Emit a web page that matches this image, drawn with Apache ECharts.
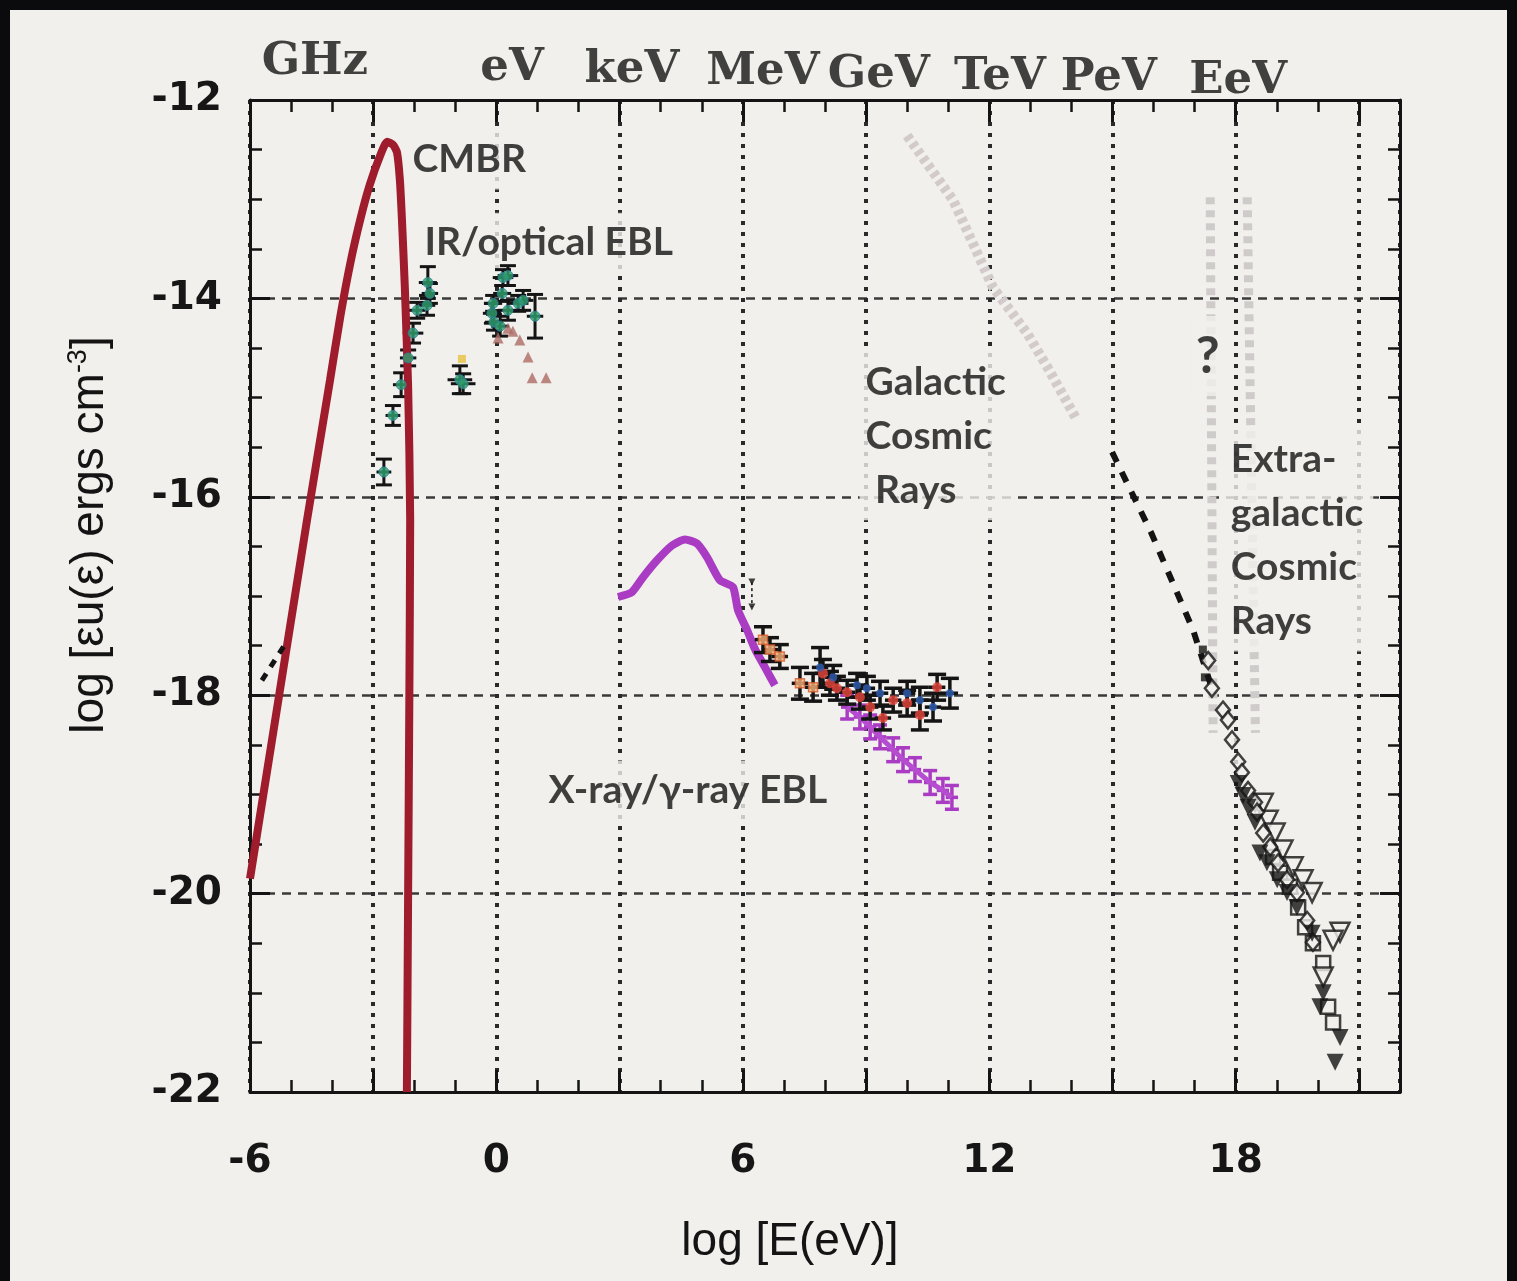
<!DOCTYPE html>
<html><head><meta charset="utf-8">
<script src="https://cdn.jsdelivr.net/npm/echarts@6/dist/echarts.min.js"></script>
<style>
html,body{margin:0;padding:0;background:#0b0b0d;width:1517px;height:1281px;overflow:hidden;}
#main{position:absolute;left:10px;top:10px;width:1497px;height:1271px;background:#f1f0ec;}
</style></head><body><div id="main"></div>
<script>
// ---------- data (log10 E [eV], log10 eu(e) [erg cm^-3]) ----------
const xTickLabels = [-6, 0, 6, 12, 18];
const yTickLabels = [-12, -14, -16, -18, -20, -22];

const unitNames = ['GHz', 'eV', 'keV', 'MeV', 'GeV', 'TeV', 'PeV', 'EeV'];
const unitLogE = [-4.42, 0.38, 3.30, 6.49, 9.31, 12.26, 14.91, 18.06];
const unitLogU = [-11.62, -11.68, -11.70, -11.72, -11.75, -11.77, -11.78, -11.81];

const cmbrLogE = [-6.0, -4.61, -4.05, -3.80, -3.55, -3.30, -3.08, -2.83, -2.66, -2.52, -2.42, -2.35, -2.30, -2.23, -2.15, -2.10, -2.12, -2.15, -2.18];
const cmbrLogU = [-19.85, -16.23, -14.82, -14.18, -13.63, -13.18, -12.85, -12.56, -12.42, -12.45, -12.53, -12.81, -13.21, -13.89, -14.89, -16.23, -18.0, -20.0, -22.0];

const radioLogE = [-5.71, -5.15];
const radioLogU = [-17.85, -17.49];

const irLogE = [-2.74, -2.52, -2.32, -2.15, -2.03, -1.93, -1.69, -1.62, -1.67, -0.89, -0.81, 0.16, 0.28, 0.14, -0.08, -0.11, -0.06, 0.09, 0.28, 0.53, 0.65, 0.94];
const irLogU = [-15.75, -15.18, -14.87, -14.60, -14.35, -14.12, -14.07, -13.95, -13.84, -14.82, -14.86, -13.79, -13.77, -13.95, -14.05, -14.15, -14.24, -14.28, -14.12, -14.05, -14.02, -14.18];
const irErrU = [0.13, 0.10, 0.12, 0.08, 0.10, 0.08, 0.10, 0.10, 0.16, 0.14, 0.10, 0.08, 0.10, 0.08, 0.08, 0.10, 0.08, 0.10, 0.10, 0.08, 0.10, 0.22];
const irErrE = [0.18, 0.18, 0.2, 0.2, 0.25, 0.2, 0.2, 0.2, 0.22, 0.3, 0.3, 0.25, 0.25, 0.22, 0.22, 0.22, 0.22, 0.22, 0.25, 0.25, 0.25, 0.2];
const yellowLogE = [-0.84];
const yellowLogU = [-14.61];

const triLogE = [0.04, 0.28, 0.40, 0.57, 0.77, 0.87, 1.21];
const triLogU = [-14.40, -14.30, -14.33, -14.42, -14.59, -14.80, -14.80];

const xrayLogE = [2.96, 3.30, 3.57, 3.91, 4.28, 4.59, 4.88, 5.13, 5.44, 5.76, 5.88, 6.10, 6.30, 6.54, 6.78];
const xrayLogU = [-17.01, -16.96, -16.81, -16.64, -16.49, -16.43, -16.47, -16.61, -16.84, -16.91, -17.14, -17.34, -17.54, -17.72, -17.90];

const fermiLogE = [8.54, 8.85, 9.10, 9.34, 9.66, 9.90, 10.19, 10.56, 10.87, 11.09];
const fermiLogU = [-18.12, -18.22, -18.32, -18.42, -18.55, -18.65, -18.75, -18.88, -18.96, -19.03];

const comptelLogE = [6.49, 6.66, 6.90, 7.39, 7.71];
const comptelLogU = [-17.44, -17.54, -17.61, -17.88, -17.92];
const comptelErr = [0.13, 0.12, 0.12, 0.16, 0.14];

const redLogE = [7.95, 8.12, 8.29, 8.54, 8.85, 9.10, 9.41, 9.66, 10.00, 10.31, 10.73];
const redLogU = [-17.78, -17.88, -17.93, -17.97, -18.02, -18.12, -18.23, -18.05, -18.08, -18.20, -17.92];
const redErr = [0.14, 0.12, 0.12, 0.12, 0.12, 0.12, 0.12, 0.12, 0.13, 0.15, 0.13];

const blueLogE = [7.88, 8.20, 8.78, 9.02, 9.34, 10.00, 10.31, 10.63, 11.04];
const blueLogU = [-17.72, -17.82, -17.90, -17.93, -17.98, -17.98, -18.05, -18.12, -17.98];
const blueErr = [0.2, 0.12, 0.12, 0.12, 0.12, 0.12, 0.13, 0.14, 0.15];

const limitLogE = [6.22, 6.22];
const limitLogU = [-16.86, -17.11];

const gcrLogE = [10.0, 11.12, 12.09, 12.92, 13.41, 14.14];
const gcrLogU = [-12.36, -13.01, -13.89, -14.35, -14.69, -15.23];

const egBandLogE = [[17.38, 17.45], [18.28, 18.48]];
const egBandLogU = [[-12.98, -18.38], [-12.98, -18.38]];

const kneeLogE = [14.99, 15.94, 16.96, 17.42];
const kneeLogU = [-15.55, -16.36, -17.34, -17.93];

const diaLogE = [17.33, 17.42, 17.69, 17.81, 17.91, 18.06, 18.15, 18.30, 18.47, 18.52, 18.67, 18.84, 19.03, 19.25, 19.49, 19.74, 19.88];
const diaLogU = [-17.65, -17.93, -18.15, -18.25, -18.45, -18.67, -18.78, -18.96, -19.08, -19.18, -19.39, -19.53, -19.69, -19.86, -19.99, -20.27, -20.49];

const fTriLogE = [18.06, 18.18, 18.30, 18.47, 18.59, 18.76, 19.01, 19.25, 19.49, 19.86, 20.13, 20.05, 20.54, 20.42];
const fTriLogU = [-18.89, -19.01, -19.13, -19.28, -19.59, -19.69, -19.86, -19.99, -20.14, -20.40, -21.00, -21.14, -21.45, -21.70];

const oTriLogE = [18.67, 18.79, 18.96, 19.15, 19.40, 19.64, 19.86, 20.54, 20.37, 20.13];
const oTriLogU = [-19.09, -19.26, -19.39, -19.56, -19.73, -19.86, -19.99, -20.39, -20.47, -20.84];

const sqLogE = [18.91, 19.08, 19.32, 19.52, 19.69, 19.88, 20.13, 20.25, 20.37];
const sqLogU = [-19.63, -19.79, -19.93, -20.14, -20.34, -20.50, -20.70, -21.14, -21.30];

const smallSqLogE = [17.20, 17.25];
const smallSqLogU = [-17.54, -17.82];

const annoText = ['CMBR', 'IR/optical EBL', 'X-ray/γ-ray EBL', 'Galactic\nCosmic\n Rays', 'Extra-\ngalactic\nCosmic\nRays', '?'];
const annoLogE = [-2.20, -1.91, 1.11, 8.83, 17.72, 16.92];
const annoLogU = [-12.60, -13.44, -18.96, -15.39, -16.44, -14.58];

// ---------- helpers ----------
const zip = (...arrs) => arrs[0].map((_, i) => arrs.map(a => a[i]));
const PAGE = '#f1f0ec';
const INK = '#141414';

function errRender(color, lw, cap) {
  return function (params, api) {
    const x = api.value(0), y = api.value(1), ey = api.value(2), ex = api.value(3);
    const t = api.coord([x, y + ey]), b = api.coord([x, y - ey]);
    const l = api.coord([x - ex, y]), r = api.coord([x + ex, y]);
    const st = { stroke: color, lineWidth: lw };
    return {
      type: 'group', children: [
        { type: 'line', shape: { x1: t[0], y1: t[1], x2: b[0], y2: b[1] }, style: st },
        { type: 'line', shape: { x1: t[0] - cap, y1: t[1], x2: t[0] + cap, y2: t[1] }, style: st },
        { type: 'line', shape: { x1: b[0] - cap, y1: b[1], x2: b[0] + cap, y2: b[1] }, style: st },
        { type: 'line', shape: { x1: l[0], y1: l[1], x2: r[0], y2: r[1] }, style: st }
      ]
    };
  };
}
function errSeries(data, color, lw, cap, z) {
  return { type: 'custom', renderItem: errRender(color, lw, cap), data: data, encode: { x: 0, y: 1 }, z: z, silent: true };
}
const fill = (v, e) => v.map(() => e);

const baseX = {
  type: 'value', min: -6, max: 22, interval: 3,
  axisLine: { show: true, onZero: false, lineStyle: { color: INK, width: 3 } },
  axisTick: { show: true, inside: true, length: 22, lineStyle: { color: INK, width: 3 } },
  minorTick: { show: true, splitNumber: 3, length: 12, lineStyle: { color: INK, width: 2.5 } }
};
const baseY = {
  type: 'value', min: -22, max: -12, interval: 2,
  axisLine: { show: true, onZero: false, lineStyle: { color: INK, width: 3 } },
  axisTick: { show: true, inside: true, length: 20, lineStyle: { color: INK, width: 3 } },
  minorTick: { show: true, splitNumber: 4, length: 12, lineStyle: { color: INK, width: 2.5 } }
};

const chart = echarts.init(document.getElementById('main'));
chart.setOption({
  animation: false,
  backgroundColor: PAGE,
  grid: { left: 240, top: 90, right: 107, bottom: 189 },
  xAxis: [
    Object.assign({}, baseX, {
      position: 'bottom',
      axisLabel: {
        margin: 50, fontFamily: 'DejaVu Sans', fontWeight: 'bold', fontSize: 39, color: '#161616',
        formatter: v => (xTickLabels.indexOf(v) >= 0 ? String(v) : '')
      },
      splitLine: { show: true, lineStyle: { type: [4, 7], width: 4, color: '#2a2a2a' } }
    }),
    Object.assign({}, baseX, { position: 'top', axisLabel: { show: false }, splitLine: { show: false } })
  ],
  yAxis: [
    Object.assign({}, baseY, {
      position: 'left',
      axisLabel: {
        margin: 28, fontFamily: 'DejaVu Sans', fontWeight: 'bold', fontSize: 39, color: '#161616',
        formatter: v => (yTickLabels.indexOf(v) >= 0 ? String(v) : '')
      },
      splitLine: { show: true, lineStyle: { type: [9, 7], width: 2.5, color: '#3a3a3a' } }
    }),
    Object.assign({}, baseY, { position: 'right', axisLabel: { show: false }, splitLine: { show: false } })
  ],
  graphic: [
    {
      type: 'text', x: 80, y: 525, rotation: Math.PI / 2,
      style: {
        text: '{a|log [εu(ε) ergs cm}{s|-3}{a|]}', align: 'center', verticalAlign: 'middle',
        rich: {
          a: { fontFamily: 'Liberation Sans', fontSize: 46, lineHeight: 50, fill: '#141414' },
          s: { fontFamily: 'Liberation Sans', fontSize: 27, lineHeight: 27, verticalAlign: 'top', fill: '#141414' }
        }
      }
    },
    {
      type: 'text', x: 780, y: 1232,
      style: { text: 'log [E(eV)]', align: 'center', verticalAlign: 'middle', fontFamily: 'Liberation Sans', fontSize: 46, fill: '#141414' }
    }
  ],
  series: [
    // unit labels above the frame
    {
      type: 'scatter', clip: false, symbolSize: 1, itemStyle: { color: 'rgba(0,0,0,0)' }, z: 3, silent: true,
      data: unitNames.map((n, i) => ({ name: n, value: [unitLogE[i], unitLogU[i]] })),
      label: { show: true, position: 'inside', formatter: '{b}', fontFamily: 'DejaVu Serif', fontWeight: 'bold', fontSize: 45, color: '#141414' }
    },
    // faint cosmic-ray bands
    {
      type: 'line', data: zip(gcrLogE, gcrLogU), symbol: 'none', z: 2, silent: true,
      lineStyle: { color: '#d3cbcb', width: 10, type: [5, 4] }
    },
    ...egBandLogE.map((xs, k) => ({
      type: 'line', data: zip(xs, egBandLogU[k]), symbol: 'none', z: 2, silent: true,
      lineStyle: { color: '#d0cbcb', width: 9, type: [7, 6] }
    })),
    // annotations with page-coloured boxes
    {
      type: 'scatter', symbolSize: 1, itemStyle: { color: 'rgba(0,0,0,0)' }, z: 3, silent: true,
      data: annoText.map((t, i) => ({
        name: t, value: [annoLogE[i], annoLogU[i]],
        label: t === '?' ? { fontSize: 52, lineHeight: 52, padding: [14, 4, 14, 4] } : {}
      })),
      label: {
        show: true, position: 'right', distance: 0, formatter: '{b}', align: 'left',
        fontFamily: 'Lato', fontWeight: 'bold', fontSize: 39, lineHeight: 54, color: '#111111',
        backgroundColor: PAGE, padding: [3, 10, 3, 6]
      }
    },
    // CMBR
    {
      type: 'line', data: zip(cmbrLogE, cmbrLogU), symbol: 'none', smooth: 0.2, z: 6,
      lineStyle: { color: '#9e1c2c', width: 8 }
    },
    {
      type: 'line', data: zip(radioLogE, radioLogU), symbol: 'none', z: 6,
      lineStyle: { color: INK, width: 5, type: [8, 8] }
    },
    // IR / optical EBL
    errSeries(zip(irLogE, irLogU, irErrU, irErrE), INK, 3, 8, 5),
    {
      type: 'scatter', data: zip(irLogE, irLogU), symbol: 'circle', symbolSize: 10, z: 6,
      itemStyle: { color: '#2fa06e', borderColor: '#2a7fa0', borderWidth: 1 }
    },
    { type: 'scatter', data: zip(yellowLogE, yellowLogU), symbol: 'rect', symbolSize: 8, z: 6, itemStyle: { color: '#e8c040' } },
    { type: 'scatter', data: zip(triLogE, triLogU), symbol: 'triangle', symbolSize: 11, z: 6, itemStyle: { color: '#ad6c64' } },
    // X-ray EBL
    {
      type: 'line', data: zip(xrayLogE, xrayLogU), symbol: 'none', smooth: 0.2, z: 5,
      lineStyle: { color: '#aa3cc4', width: 8 }
    },
    {
      type: 'line', data: zip(fermiLogE, fermiLogU), symbol: 'none', z: 5,
      lineStyle: { color: '#b64cd0', width: 5 }
    },
    errSeries(zip(fermiLogE, fermiLogU, fill(fermiLogE, 0.12), fill(fermiLogE, 0.15)), '#aa3cc4', 3.5, 7, 5),
    // gamma-ray measurements
    errSeries(zip(comptelLogE, comptelLogU, comptelErr, fill(comptelLogE, 0.2)), INK, 3.5, 9, 6),
    errSeries(zip(redLogE, redLogU, redErr, fill(redLogE, 0.2)), INK, 3.5, 9, 6),
    errSeries(zip(blueLogE, blueLogU, blueErr, fill(blueLogE, 0.2)), INK, 3.5, 9, 6),
    { type: 'scatter', data: zip(comptelLogE, comptelLogU), symbol: 'rect', symbolSize: 9, z: 7, itemStyle: { color: '#f6b27a', borderColor: '#d85a2a', borderWidth: 1.5 } },
    { type: 'scatter', data: zip(redLogE, redLogU), symbol: 'circle', symbolSize: 10, z: 7, itemStyle: { color: '#e8463c' } },
    { type: 'scatter', data: zip(blueLogE, blueLogU), symbol: 'circle', symbolSize: 8, z: 7, itemStyle: { color: '#2e5fb5' } },
    {
      type: 'line', data: zip(limitLogE, limitLogU), symbol: 'none', z: 6,
      lineStyle: { color: INK, width: 1.5, type: [3, 3] }
    },
    {
      type: 'scatter', data: zip(limitLogE, limitLogU), symbol: 'triangle', symbolRotate: 180, symbolSize: 7, z: 6,
      itemStyle: { color: INK }
    },
    // cosmic-ray knee line and UHECR data
    {
      type: 'line', data: zip(kneeLogE, kneeLogU), symbol: 'none', z: 6,
      lineStyle: { color: INK, width: 6, type: [11, 11] }
    },
    { type: 'scatter', data: zip(smallSqLogE, smallSqLogU), symbol: 'rect', symbolSize: 8, z: 7, itemStyle: { color: INK } },
    { type: 'scatter', data: zip(sqLogE, sqLogU), symbol: 'rect', symbolSize: 14, z: 7, itemStyle: { color: PAGE, borderColor: INK, borderWidth: 2.5 } },
    { type: 'scatter', data: zip(oTriLogE, oTriLogU), symbol: 'triangle', symbolRotate: 180, symbolSize: 19, z: 7, itemStyle: { color: PAGE, borderColor: INK, borderWidth: 2.5 } },
    { type: 'scatter', data: zip(diaLogE, diaLogU), symbol: 'diamond', symbolSize: [14, 17], z: 8, itemStyle: { color: PAGE, borderColor: INK, borderWidth: 2.5 } },
    { type: 'scatter', data: zip(fTriLogE, fTriLogU), symbol: 'triangle', symbolRotate: 180, symbolSize: 17, z: 8, itemStyle: { color: INK } }
  ]
});
</script></body></html>
